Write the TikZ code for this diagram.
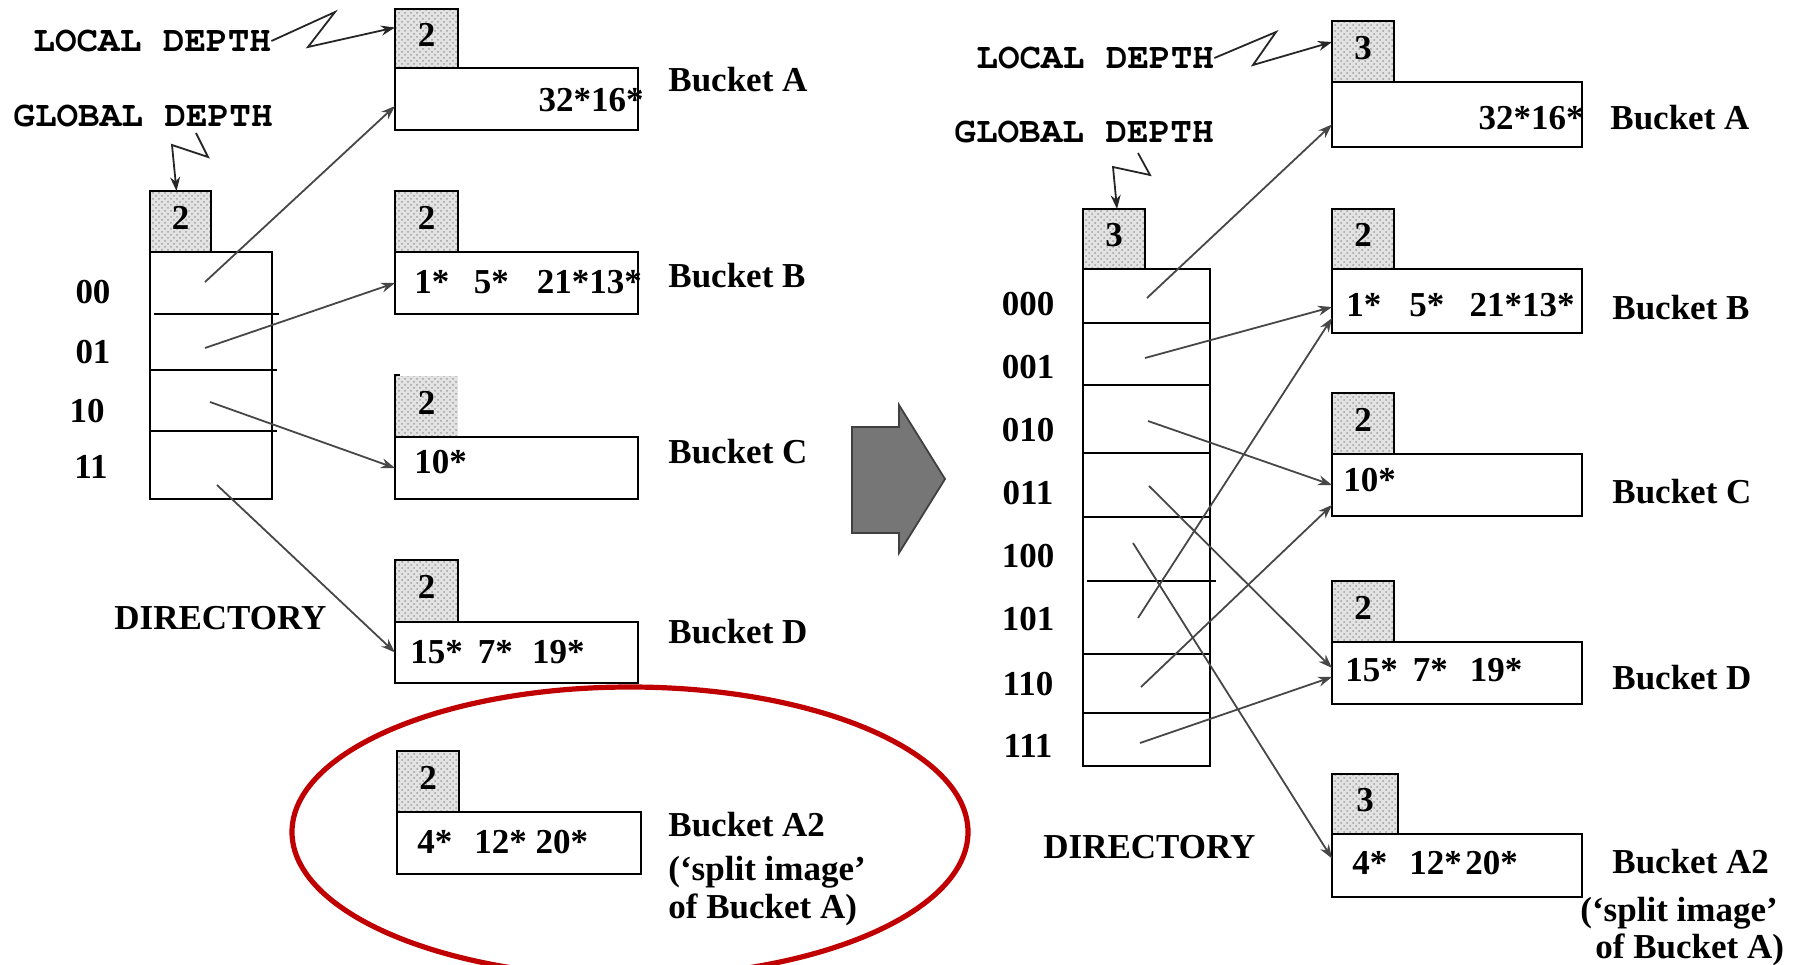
\documentclass[tikz,border=0pt]{standalone}
\usepackage{fontspec}
\setmainfont{Liberation Serif}
\setmonofont{Liberation Mono}
\usetikzlibrary{arrows.meta,patterns}
\definecolor{redline}{RGB}{192,0,0}
\definecolor{arrgray}{RGB}{118,118,118}
\newcommand\lblfont{\fontsize{17.5}{20}\selectfont\bfseries}
\newcommand\monofnt{\fontencoding{OT1}\fontfamily{pcr}\fontseries{b}\fontshape{n}\fontsize{18}{20}\selectfont}
\begin{document}
\begin{tikzpicture}[x=0.5pt,y=-0.5pt,
  box/.style={draw=black, line width=1.4pt, inner sep=0pt, outer sep=0pt, anchor=north west},
  ldbox/.style={box, preaction={fill=gray!22}, pattern=crosshatch dots, pattern color=gray!75, font=\lblfont},
  txt/.style={inner sep=0pt, font=\lblfont},
  mono/.style={inner sep=0pt, font=\monofnt, anchor=west},
  conn/.style={draw=black!72, line width=0.9pt, -{Stealth[length=7pt,width=5pt]}},
  zz/.style={draw=black!85, line width=0.9pt, -{Stealth[length=7pt,width=5pt]}},
  divider/.style={line width=1.4pt},
]
\useasboundingbox (0,0) rectangle (1799,964);

% ================= LEFT =================
\node[mono] (ldtL) at (33,41) {LOCAL DEPTH};
\node[mono] (gdtL) at (13,116) {GLOBAL DEPTH};

\node[ldbox, minimum width=30.5pt, minimum height=30.5pt] (gL) at (150,191) {\raisebox{4pt}{2}};
\node[box, minimum width=61pt, minimum height=123.5pt] (dirL) at (150,252) {};
\draw[divider] (154,314) -- (279,314);
\draw[divider] (150,370) -- (277,370);
\draw[divider] (150,431) -- (277,431);

\node[txt] (l00) at (93,292) {00};
\node[txt] (l01) at (93,352) {01};
\node[txt] (l10) at (87,411) {10};
\node[txt] (l11) at (91,467) {11};
\node[txt, anchor=west] (dirtL) at (114,618) {DIRECTORY};

% local depth boxes
\node[ldbox, minimum width=31.5pt, minimum height=29.5pt] (ldAL) at (395,9) {\raisebox{4pt}{2}};
\node[ldbox, minimum width=31.5pt, minimum height=30.5pt] (ldBL) at (395,191) {\raisebox{4pt}{2}};
\node[ldbox, draw=none, minimum width=31.5pt, minimum height=30.5pt] (ldCL) at (395,376) {\raisebox{4pt}{2}};
\draw[line width=1.4pt] (400,375) -- (395,375) -- (395,437);
\node[ldbox, minimum width=31.5pt, minimum height=31pt] (ldDL) at (395,560) {\raisebox{4pt}{2}};
\node[ldbox, minimum width=31pt, minimum height=30.5pt] (ldA2L) at (397,751) {\raisebox{4pt}{2}};

% bucket boxes
\node[box, minimum width=121.5pt, minimum height=31pt] (bAL) at (395,68) {};
\node[box, minimum width=121.5pt, minimum height=31pt] (bBL) at (395,252) {};
\node[box, minimum width=121.5pt, minimum height=31pt] (bCL) at (395,437) {};
\node[box, minimum width=121.5pt, minimum height=30.5pt] (bDL) at (395,622) {};
\node[box, minimum width=122pt, minimum height=31pt] (bA2L) at (397,812) {};

% contents
\node[txt, anchor=east] (cAL) at (644,100) {32*16*};
\node[txt, anchor=west] (cBL) at (414,282) {1*\hspace{0.7em}5*\hspace{0.8em}21*13*};
\node[txt, anchor=west] (cCL) at (414,462) {10*};
\node[txt, anchor=west] (cDL) at (410,652) {15*\hspace{0.43em}7*\hspace{0.55em}19*};
\node[txt, anchor=west] (cA2L) at (417,842) {4*\hspace{0.63em}12*\hspace{0.25em}20*};

% bucket labels
\node[txt, anchor=west] (nAL) at (668,80) {Bucket A};
\node[txt, anchor=west] (nBL) at (668,276) {Bucket B};
\node[txt, anchor=west] (nCL) at (668,452) {Bucket C};
\node[txt, anchor=west] (nDL) at (668,632) {Bucket D};
\node[txt, anchor=west] (nA2L) at (668,825) {Bucket A2};
\node[txt, anchor=west] (sA2L) at (668,872) {(`split image'};
\node[txt, anchor=west] (oA2L) at (668,910) {of Bucket A)};

% zigzags
\draw[zz] (ldtL.east) -- (335,12) -- (308,47) -- ([yshift=5.5pt]ldAL.west);
\coordinate (gzL) at (196,133);
\draw[zz] (gzL) -- (208,157) -- (172,145) -- ([xshift=-2pt]gL.north);

% directory pointers
\coordinate (sL00) at (205,282);
\coordinate (sL01) at (205,348);
\coordinate (sL10) at (210,402);
\coordinate (sL11) at (217,485);
\draw[conn] (sL00) -- ([yshift=-3.5pt]bAL.west);
\draw[conn] (sL01) -- (bBL.west);
\draw[conn] (sL10) -- (bCL.west);
\draw[conn] (sL11) -- (bDL.west);

% red ellipse
\draw[draw=redline, line width=2.6pt] (630,832) ellipse [x radius=169pt, y radius=72.5pt];

% big gray arrow
\draw[fill=arrgray, draw=black!75, line width=0.9pt, line join=miter]
  (852,427) -- (899,427) -- (899,405) -- (945,479) -- (899,553) -- (899,533) -- (852,533) -- cycle;

% ================= RIGHT =================
\node[mono] (ldtR) at (976,58) {LOCAL DEPTH};
\node[mono] (gdtR) at (954,132) {GLOBAL DEPTH};

\node[ldbox, minimum width=31pt, minimum height=30pt] (gR) at (1083,209) {\raisebox{4pt}{3}};
\node[box, minimum width=63.5pt, minimum height=248.5pt] (dirR) at (1083,269) {};
\draw[divider] (1083,323) -- (1210,323);
\draw[divider] (1083,385) -- (1210,385);
\draw[divider] (1083,453) -- (1210,453);
\draw[divider] (1083,517) -- (1210,517);
\draw[divider] (1087,581) -- (1216,581);
\draw[divider] (1083,654) -- (1210,654);
\draw[divider] (1083,713) -- (1210,713);

\node[txt] (r000) at (1028,304) {000};
\node[txt] (r001) at (1028,367) {001};
\node[txt] (r010) at (1028,430) {010};
\node[txt] (r011) at (1028,493) {011};
\node[txt] (r100) at (1028,556) {100};
\node[txt] (r101) at (1028,619) {101};
\node[txt] (r110) at (1028,684) {110};
\node[txt] (r111) at (1028,746) {111};
\node[txt, anchor=west] (dirtR) at (1043,847) {DIRECTORY};

\node[ldbox, minimum width=31pt, minimum height=30.5pt] (ldAR) at (1332,21) {\raisebox{4pt}{3}};
\node[ldbox, minimum width=31pt, minimum height=30pt] (ldBR) at (1332,209) {\raisebox{4pt}{2}};
\node[ldbox, minimum width=31pt, minimum height=30.5pt] (ldCR) at (1332,393) {\raisebox{4pt}{2}};
\node[ldbox, minimum width=31pt, minimum height=30.5pt] (ldDR) at (1332,581) {\raisebox{4pt}{2}};
\node[ldbox, minimum width=33pt, minimum height=30pt] (ldA2R) at (1332,774) {\raisebox{4pt}{3}};

\node[box, minimum width=125pt, minimum height=32.5pt] (bAR) at (1332,82) {};
\node[box, minimum width=125pt, minimum height=32pt] (bBR) at (1332,269) {};
\node[box, minimum width=125pt, minimum height=31pt] (bCR) at (1332,454) {};
\node[box, minimum width=125pt, minimum height=31pt] (bDR) at (1332,642) {};
\node[box, minimum width=125pt, minimum height=31.5pt] (bA2R) at (1332,834) {};

\node[txt, anchor=east] (cAR) at (1584,118) {32*16*};
\node[txt, anchor=west] (cBR) at (1346,305) {1*\hspace{0.8em}5*\hspace{0.72em}21*13*};
\node[txt, anchor=west] (cCR) at (1343,480) {10*};
\node[txt, anchor=west] (cDR) at (1345,670) {15*\hspace{0.43em}7*\hspace{0.63em}19*};
\node[txt, anchor=west] (cA2R) at (1352,863) {4*\hspace{0.63em}12*\hspace{0.1em}20*};

\node[txt, anchor=west] (nAR) at (1610,118) {Bucket A};
\node[txt, anchor=west] (nBR) at (1612,308) {Bucket B};
\node[txt, anchor=west] (nCR) at (1612,492) {Bucket C};
\node[txt, anchor=west] (nDR) at (1612,678) {Bucket D};
\node[txt, anchor=west] (nA2R) at (1612,862) {Bucket A2};
\node[txt, anchor=west] (sA2R) at (1580,913) {(`split image'};
\node[txt, anchor=west] (oA2R) at (1595,950) {of Bucket A)};

\draw[zz] (ldtR.east) -- (1276,32) -- (1253,65) -- ([yshift=4.75pt]ldAR.west);
\coordinate (gzR) at (1138,153);
\draw[zz] (gzR) -- (1150,175) -- (1113,167) -- ([xshift=1.5pt]gR.north);

\coordinate (s000) at (1147,298);
\coordinate (s001) at (1145,358);
\coordinate (s010) at (1148,421);
\coordinate (s011) at (1149,486);
\coordinate (s100) at (1133,543);
\coordinate (s101) at (1138,618);
\coordinate (s110) at (1141,687);
\coordinate (s111) at (1140,743);
\draw[conn] (s000) -- ([yshift=-5pt]bAR.west);
\draw[conn] (s001) -- ([yshift=-3pt]bBR.west);
\draw[conn] (s010) -- (bCR.west);
\draw[conn] (s011) -- ([yshift=2.5pt]bDR.west);
\draw[conn] (s100) -- ([yshift=3.5pt]bA2R.west);
\draw[conn] (s101) -- ([yshift=-8.5pt]bBR.west);
\draw[conn] (s110) -- ([yshift=-10pt]bCR.west);
\draw[conn] (s111) -- ([yshift=-2pt]bDR.west);
\end{tikzpicture}
\end{document}
